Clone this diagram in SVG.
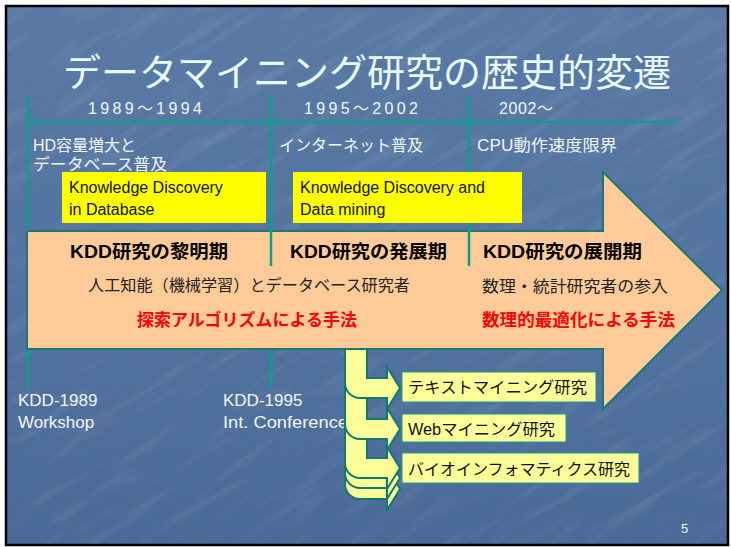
<svg xmlns="http://www.w3.org/2000/svg" width="731" height="547" viewBox="0 0 731 547">
<defs>
  <linearGradient id="bg" x1="0" y1="0" x2="0" y2="1">
    <stop offset="0" stop-color="#5a7aa5"/>
    <stop offset="0.5" stop-color="#5373a0"/>
    <stop offset="1" stop-color="#4a6a98"/>
  </linearGradient>
  <filter id="tex" x="0" y="0" width="100%" height="100%">
    <feTurbulence type="fractalNoise" baseFrequency="0.012 0.08" numOctaves="3" seed="7"/>
    <feColorMatrix type="matrix" values="0 0 0 0 1  0 0 0 0 1  0 0 0 0 1  0 0 0 1.6 -0.8"/>
  </filter>
  <clipPath id="slide"><rect x="7" y="7" width="720" height="537"/></clipPath>
  <marker id="ah" viewBox="0 0 8 8" markerWidth="7" markerHeight="7" refX="8" refY="4" orient="auto-start-reverse" markerUnits="userSpaceOnUse">
    <path d="M0,0 L8,4 L0,8 z" fill="#0e9e8e"/>
  </marker>
  <style>
    .lat { font-family: "Liberation Sans", "Noto Sans CJK JP", sans-serif; }
    .jp { font-family: "Noto Sans CJK JP", sans-serif; }
    .wt { fill: #f2f6fa; }
    .tl { stroke: #0e9e8e; stroke-width: 2.5; fill: none; }
    .ybox { fill: #ffff00; }
    .lbox { fill: #ffff99; stroke: #1a9a8a; stroke-width: 1; }
    .bent { fill: #ffff99; stroke: #0f7a70; stroke-width: 2; stroke-linejoin: miter; }
    .big { fill: #ffcc99; stroke: #1d7775; stroke-width: 2; }
    .bk { fill: #111; }
    .red { fill: #ff0000; font-weight: bold; }
  </style>
</defs>

<!-- page & slide background -->
<rect x="0" y="0" width="731" height="547" fill="#ffffff"/>
<rect x="6" y="6" width="722" height="539" fill="url(#bg)" stroke="#000" stroke-width="2.5"/>
<g clip-path="url(#slide)" opacity="0.13">
  <rect x="-200" y="-200" width="1200" height="1000" filter="url(#tex)" transform="rotate(-32 365 273)"/>
</g>

<!-- title -->
<text id="title" x="367" y="86" text-anchor="middle" class="jp" font-size="38" fill="#e8fbff" textLength="608" lengthAdjust="spacingAndGlyphs">データマイニング研究の歴史的変遷</text>

<!-- conference labels (partly hidden by bent arrows) -->
<g id="kdd1989" class="lat wt" font-size="17">
  <text x="18" y="406">KDD-1989</text>
  <text x="18" y="428">Workshop</text>
</g>
<g id="kdd1995" class="lat wt" font-size="17">
  <text x="223" y="406">KDD-1995</text>
  <text x="223" y="428" textLength="125" lengthAdjust="spacingAndGlyphs">Int. Conference</text>
</g>

<!-- bent arrows (drawn behind big arrow) -->
<g id="bent-arrows">
  <path class="bent" d="M345,340 L367,340 L367,479 L387,479 L387,468 L400,489 L387,510 L387,499 L360,499 A15,15 0 0 1 345,484 Z"/>
  <path class="bent" d="M345,340 L367,340 L367,468 L387,468 L387,457 L400,478 L387,499 L387,488 L360,488 A15,15 0 0 1 345,473 Z"/>
  <path class="bent" d="M345,340 L367,340 L367,458 L387,458 L387,447 L400,468 L387,489 L387,478 L360,478 A15,15 0 0 1 345,463 Z"/>
  <path class="bent" d="M345,340 L367,340 L367,419 L387,419 L387,408 L400,429 L387,450 L387,439 L360,439 A15,15 0 0 1 345,424 Z"/>
  <path class="bent" d="M345,340 L367,340 L367,378 L387,378 L387,367 L400,388 L387,409 L387,398 L360,398 A15,15 0 0 1 345,383 Z"/>
</g>

<!-- big arrow -->
<g id="main-arrow">
  <path class="big" d="M27,231 L603,231 L603,172 L722,290 L603,409 L603,349 L27,349 Z"/>
</g>

<!-- connectors: timeline -->
<g id="connectors">
  <line class="tl" x1="28" y1="96" x2="28" y2="231"/>
  <line class="tl" x1="271" y1="96" x2="271" y2="266"/>
  <line class="tl" x1="469" y1="96" x2="469" y2="266"/>
  <line class="tl" x1="29" y1="122" x2="270" y2="122" marker-start="url(#ah)" marker-end="url(#ah)"/>
  <line class="tl" x1="272" y1="122" x2="468" y2="122" marker-start="url(#ah)" marker-end="url(#ah)"/>
  <line class="tl" x1="470" y1="122" x2="677" y2="122" marker-start="url(#ah)"/>
  <line class="tl" x1="28" y1="388" x2="28" y2="350" marker-end="url(#ah)"/>
  <line class="tl" x1="271" y1="388" x2="271" y2="350" marker-end="url(#ah)"/>
</g>

<!-- year labels -->
<g id="years" class="lat wt" font-size="16">
  <text x="88" y="114" textLength="114" lengthAdjust="spacing">1989～1994</text>
  <text x="304" y="114" textLength="114" lengthAdjust="spacing">1995～2002</text>
  <text x="499" y="114" textLength="54" lengthAdjust="spacing">2002～</text>
</g>

<!-- period headers -->
<g id="period-notes" class="lat wt" font-size="16">
  <text x="33" y="151">HD容量増大と</text>
  <text x="33" y="170" textLength="134" lengthAdjust="spacingAndGlyphs">データベース普及</text>
  <text x="279" y="151">インターネット普及</text>
  <text x="477" y="151" textLength="140" lengthAdjust="spacingAndGlyphs">CPU動作速度限界</text>
</g>

<!-- yellow boxes -->
<g id="kdd-box">
  <rect class="ybox" x="62" y="172" width="204" height="51"/>
  <text class="lat bk" font-size="16" x="69" y="193">Knowledge Discovery</text>
  <text class="lat bk" font-size="16" x="69" y="215">in Database</text>
</g>
<g id="kddm-box">
  <rect class="ybox" x="293" y="172" width="229" height="51"/>
  <text class="lat bk" font-size="16" x="300" y="193">Knowledge Discovery and</text>
  <text class="lat bk" font-size="16" x="300" y="215">Data mining</text>
</g>

<!-- arrow contents -->
<g id="period1">
  <text class="lat" font-weight="bold" font-size="18.5" fill="#000" x="70" y="258" textLength="158" lengthAdjust="spacingAndGlyphs">KDD研究の黎明期</text>
  <text class="jp" font-size="16" fill="#222" x="88" y="291" textLength="322" lengthAdjust="spacingAndGlyphs">人工知能（機械学習）とデータベース研究者</text>
  <text class="jp red" font-size="17" x="137" y="326" textLength="220" lengthAdjust="spacingAndGlyphs">探索アルゴリズムによる手法</text>
</g>
<g id="period2">
  <text class="lat" font-weight="bold" font-size="18.5" fill="#000" x="290" y="258" textLength="157" lengthAdjust="spacingAndGlyphs">KDD研究の発展期</text>
</g>
<g id="period3">
  <text class="lat" font-weight="bold" font-size="18.5" fill="#000" x="483" y="258" textLength="159" lengthAdjust="spacingAndGlyphs">KDD研究の展開期</text>
  <text class="jp" font-size="16" fill="#222" x="482" y="292" textLength="186" lengthAdjust="spacingAndGlyphs">数理・統計研究者の参入</text>
  <text class="jp red" font-size="17" x="482" y="326" textLength="193" lengthAdjust="spacingAndGlyphs">数理的最適化による手法</text>
</g>

<!-- research boxes -->
<g id="text-mining">
  <rect class="lbox" x="402" y="372" width="194" height="30"/>
  <text class="jp bk" font-size="16" x="408" y="393" textLength="179" lengthAdjust="spacingAndGlyphs">テキストマイニング研究</text>
</g>
<g id="web-mining">
  <rect class="lbox" x="402" y="414" width="164" height="28"/>
  <text class="lat bk" font-size="16" x="408" y="435" textLength="147" lengthAdjust="spacingAndGlyphs">Webマイニング研究</text>
</g>
<g id="bioinformatics">
  <rect class="lbox" x="402" y="453" width="237" height="30"/>
  <text class="jp bk" font-size="16" x="408" y="475" textLength="222" lengthAdjust="spacingAndGlyphs">バイオインフォマティクス研究</text>
</g>

<text id="page" x="681" y="533" class="lat wt" font-size="13">5</text>
</svg>
